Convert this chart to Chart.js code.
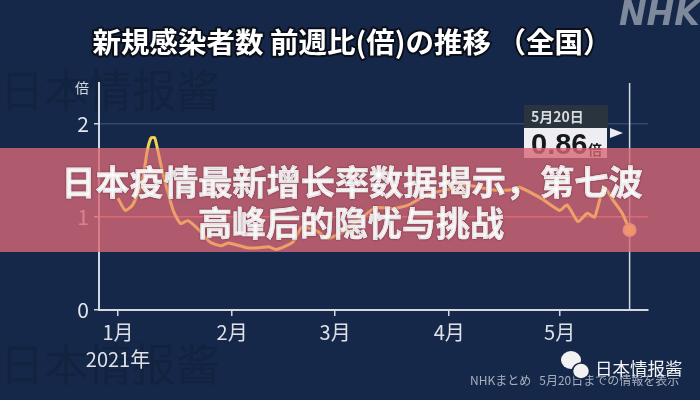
<!DOCTYPE html>
<html>
<head>
<meta charset="utf-8">
<style>
  html, body { margin: 0; padding: 0; background: #15284a; }
  #wrap { width: 700px; height: 400px; }
</style>
<script src="https://cdn.jsdelivr.net/npm/chart.js@4"></script>
</head>
<body>
<div id="wrap"><canvas id="ratioChart" width="700" height="400"></canvas></div>
<script>
// Days counted from Jan 1 2021, and the week-on-week ratio
const days = [0, 2, 4, 6.5, 8, 9, 10, 12, 15, 17, 19, 22, 25, 28, 30, 35, 38.5, 41, 43, 47.5, 50, 54, 57, 61, 65, 70, 75, 79, 84, 90, 95, 102, 106.5, 109, 115, 120, 122, 125, 127.5, 129.5, 132, 134.5, 137, 139];
const ratios = [1.2, 1.07, 1.13, 1.37, 1.72, 1.85, 1.85, 1.5, 1.07, 0.93, 0.96, 0.86, 0.73, 0.69, 0.72, 0.67, 0.67, 0.68, 0.65, 0.73, 0.89, 0.85, 0.77, 0.84, 0.95, 1.1, 1.09, 1.13, 1.24, 1.3, 1.34, 1.29, 1.29, 1.32, 1.2, 1.07, 1.13, 0.95, 1.04, 1.0, 1.32, 1.18, 1.04, 0.86];

const monthTicks = [0, 31, 59, 90, 120];
const monthLabels = ['1月', '2月', '3月', '4月', '5月'];
const yearLabel = '2021年';
const ratioTicks = [0, 1, 2];

const lastLabel = '5月20日';
const lastValue = '0.86';

const FONT = '"Noto Sans CJK JP", "Noto Sans CJK SC", sans-serif';
const BG = '#15284a';
const BAND_TOP = 148;
const BAND_BOTTOM = 252;

function drawText(ctx, text, x, y, font, color, align) {
  ctx.font = font;
  ctx.fillStyle = color;
  ctx.textAlign = align || 'left';
  ctx.textBaseline = 'middle';
  ctx.fillText(text, x, y);
}

// Background, watermarks, title, logo and source line
const backdropPlugin = {
  id: 'backdrop',
  beforeDraw(chart) {
    const ctx = chart.ctx;
    ctx.save();
    ctx.fillStyle = BG;
    ctx.fillRect(0, 0, 700, 400);

    drawText(ctx, '日本情报酱', 0, 90, '44px ' + FONT, '#12233f');
    drawText(ctx, '日本情报酱', 0, 364, '44px ' + FONT, '#12233f');

    drawText(ctx, 'NHK', 619, 16, 'oblique bold 33px "DejaVu Sans"', '#7f899c');

    ctx.font = 'bold 28.5px ' + FONT;
    ctx.textAlign = 'center';
    ctx.textBaseline = 'middle';
    ctx.lineWidth = 4;
    ctx.lineJoin = 'round';
    ctx.strokeStyle = '#0a0f1a';
    ctx.strokeText('新規感染者数 前週比(倍)の推移 （全国）', 352, 42);
    ctx.fillStyle = '#ffffff';
    ctx.fillText('新規感染者数 前週比(倍)の推移 （全国）', 352, 42);

    drawText(ctx, '倍', 82, 88, '14px ' + FONT, '#d5d8de', 'center');
    drawText(ctx, 'NHKまとめ   5月20日までの情報を表示', 470, 380, '12px ' + FONT, '#a9afbc');

    // wechat mark
    ctx.fillStyle = '#f2f2f2';
    ctx.beginPath();
    ctx.ellipse(571, 360, 10, 9, 0, 0, Math.PI * 2);
    ctx.fill();
    ctx.strokeStyle = BG;
    ctx.lineWidth = 1.5;
    ctx.beginPath();
    ctx.ellipse(581, 371, 8.5, 8, 0, 0, Math.PI * 2);
    ctx.fill();
    ctx.stroke();
    drawText(ctx, '日本情报酱', 595, 368, '17.5px ' + FONT, '#f4f4f4');
    ctx.restore();
  },
  // Callout and marker line sit under the band, the curve sits over it
  beforeDatasetsDraw(chart) {
    const ctx = chart.ctx;
    const x = chart.scales.x.getPixelForValue(days[days.length - 1]);
    const area = chart.chartArea;
    ctx.save();
    ctx.strokeStyle = '#d5d8de';
    ctx.lineWidth = 1.5;
    ctx.beginPath();
    ctx.moveTo(x, area.top);
    ctx.lineTo(x, area.bottom);
    ctx.stroke();

    ctx.fillStyle = '#2a343f';
    ctx.fillRect(524, 105, 84, 23);
    ctx.fillStyle = '#eeeef2';
    ctx.fillRect(524, 128, 83, 30);
    ctx.beginPath();
    ctx.moveTo(610, 128);
    ctx.lineTo(623, 133);
    ctx.lineTo(610, 138);
    ctx.closePath();
    ctx.fill();
    drawText(ctx, lastLabel, 531, 117, 'bold 14px ' + FONT, '#d8dbe0');
    drawText(ctx, lastValue, 531, 146, 'bold 29px "Liberation Sans"', '#15181c');
    drawText(ctx, '倍', 588, 150, 'bold 14px ' + FONT, '#15181c');

    ctx.fillStyle = 'rgba(215, 104, 118, 0.8)';
    ctx.fillRect(0, BAND_TOP, 700, BAND_BOTTOM - BAND_TOP);
    ctx.restore();
  },
  afterDatasetsDraw(chart) {
    const ctx = chart.ctx;
    ctx.save();
    ctx.shadowColor = 'rgba(60, 20, 30, 0.6)';
    ctx.shadowBlur = 2;
    ctx.strokeStyle = '#ffffff';
    ctx.lineWidth = 0.6;
    drawText(ctx, '日本疫情最新增长率数据揭示，第七波', 352, 182, 'bold 34.2px "Noto Sans CJK SC"', '#ffffff', 'center');
    ctx.strokeText('日本疫情最新增长率数据揭示，第七波', 352, 182);
    drawText(ctx, '高峰后的隐忧与挑战', 351, 223, 'bold 34px "Noto Sans CJK SC"', '#ffffff', 'center');
    ctx.strokeText('高峰后的隐忧与挑战', 351, 223);
    ctx.restore();
  }
};

// Yellow above the band, orange where the band crosses it
function lineColor(context) {
  const g = context.chart.ctx.createLinearGradient(0, BAND_TOP, 0, BAND_TOP + 1);
  g.addColorStop(0, '#f0d24e');
  g.addColorStop(1, '#eea068');
  return g;
}

new Chart(document.getElementById('ratioChart'), {
  type: 'line',
  data: {
    datasets: [{
      data: days.map((d, i) => ({ x: d, y: ratios[i] })),
      borderColor: lineColor,
      borderWidth: 3,
      tension: 0.2,
      pointRadius: ctx => (ctx.dataIndex === days.length - 1 ? 6 : 0),
      pointBackgroundColor: '#f2966a',
      pointBorderColor: '#e88a7c',
      pointBorderWidth: 2
    }]
  },
  options: {
    responsive: false,
    animation: false,
    layout: { padding: { top: 83, right: 52, left: 0, bottom: 0 } },
    plugins: { legend: { display: false }, tooltip: { enabled: false } },
    scales: {
      x: {
        type: 'linear',
        min: -5.16,
        max: 144,
        afterFit(scale) { scale.height = 90; },
        afterBuildTicks(scale) { scale.ticks = monthTicks.map(v => ({ value: v })); },
        border: { color: '#d5d8de', width: 2 },
        grid: { drawOnChartArea: false, color: '#d5d8de', tickLength: 6, lineWidth: 1.5 },
        ticks: {
          autoSkip: false,
          maxRotation: 0,
          padding: 3,
          color: '#dfe1e6',
          font: { size: 20, family: FONT, lineHeight: 1.35 },
          callback(value) {
            const label = monthLabels[monthTicks.indexOf(value)];
            return value === 0 ? [label, yearLabel] : label;
          }
        }
      },
      y: {
        min: 0,
        max: 2.44,
        afterFit(scale) { scale.width = 99; },
        afterBuildTicks(scale) { scale.ticks = ratioTicks.map(v => ({ value: v })); },
        border: { color: '#d5d8de', width: 2 },
        grid: {
          tickLength: 5,
          lineWidth: 1.5,
          tickColor: '#d5d8de',
          color: ctx => {
            if (ctx.tick && ctx.tick.value === 1) return '#ff5f6c';
            if (ctx.tick && ctx.tick.value === 2) return '#34486c';
            return 'rgba(0, 0, 0, 0)';
          }
        },
        ticks: {
          padding: 5,
          color: '#e4e6ea',
          font: { size: 21, family: FONT },
          callback: value => String(value)
        }
      }
    }
  },
  plugins: [backdropPlugin]
});
</script>
</body>
</html>
